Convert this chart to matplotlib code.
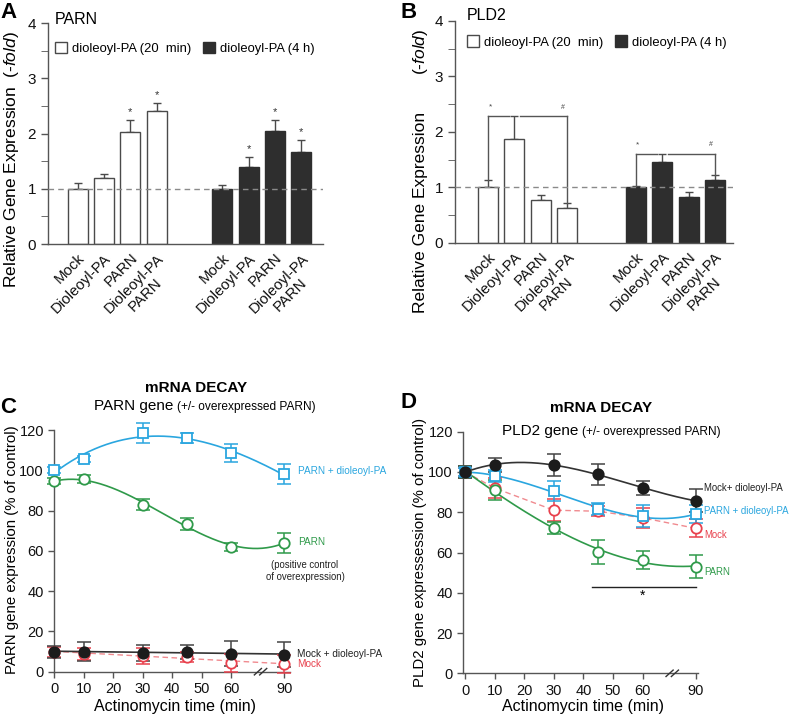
import numpy as np
import matplotlib
matplotlib.use("Agg")
import matplotlib.pyplot as plt
from matplotlib.transforms import ScaledTranslation

plt.rcParams['font.family'] = ['Liberation Sans', 'DejaVu Sans']
plt.rcParams['mathtext.fontset'] = 'custom'
plt.rcParams['mathtext.rm'] = 'Liberation Sans'
plt.rcParams['mathtext.it'] = 'Liberation Sans:italic'

# ---------------- data ----------------
bar_labels = ["Mock", "Dioleoyl-PA", "PARN", "Dioleoyl-PA\nPARN"]
legend_labels = ["dioleoyl-PA (20  min)", "dioleoyl-PA (4 h)"]

parn_20min = [1.00, 1.20, 2.02, 2.40]
parn_20min_err = [0.11, 0.07, 0.22, 0.15]
parn_4h = [1.00, 1.40, 2.04, 1.66]
parn_4h_err = [0.07, 0.17, 0.21, 0.22]
parn_20min_sig = [False, False, True, True]
parn_4h_sig = [False, True, True, True]

pld2_20min = [1.00, 1.87, 0.77, 0.63]
pld2_20min_err = [0.14, 0.41, 0.09, 0.08]
pld2_4h = [1.01, 1.46, 0.83, 1.14]
pld2_4h_err = [0.01, 0.14, 0.09, 0.08]

times = [0, 10, 30, 45, 60, 90]
time_ticks = [0, 10, 20, 30, 40, 50, 60, 90]

c_parn_dpa = [100, 105.5, 118.5, 116, 108.5, 98]
c_parn_dpa_err = [1.5, 1.5, 4.8, 2.7, 4.5, 5]
c_parn = [94.5, 95.5, 83, 73.5, 62, 64]
c_parn_err = [1.5, 2, 2.5, 3, 2, 5]
c_mock_dpa = [10, 10, 9.5, 10, 9, 8.5]
c_mock_dpa_err = [3, 4.5, 4, 3.5, 6, 6]
c_mock = [10, 9, 8, 7.5, 4.5, 4]
c_mock_err = [2.5, 3, 4, 2.5, 4.5, 4.5]

d_mock_dpa = [100, 103.5, 103.5, 98.8, 92, 85.7]
d_mock_dpa_err = [3, 3.5, 5.5, 5.3, 3.5, 5.8]
d_parn_dpa = [100, 98, 90.5, 81.5, 78, 79]
d_parn_dpa_err = [2, 3, 5, 3, 5.5, 4.5]
d_mock = [100, 92, 81, 80.5, 77.2, 72]
d_mock_err = [2, 5, 5.5, 2.5, 5, 4.5]
d_parn = [100, 91, 72, 60.3, 56.4, 53]
d_parn_err = [3, 5, 3, 6, 4.5, 5.8]

# ---------------- helpers ----------------
W, H = 792, 715
fig = plt.figure(figsize=(W / 100, H / 100), dpi=100)
renderer = fig.canvas.get_renderer()

def fx(px):
    return px / W

def fy(py):
    return 1 - py / H

def add_ax(left, top, right, bottom):
    return fig.add_axes([fx(left), fy(bottom), (right - left) / W, (bottom - top) / H])

AX_COL = '#555555'
BLUE = '#2aa6df'
GREEN = '#2f9a4a'
RED = '#e8414d'
BLACK = '#1c1c1c'

def style_axes(ax):
    for s in ['top', 'right']:
        ax.spines[s].set_visible(False)
    for s in ['left', 'bottom']:
        ax.spines[s].set_color(AX_COL)
        ax.spines[s].set_linewidth(1.0)
    ax.tick_params(colors=AX_COL, labelcolor='#111111', width=1.0)

# ---------------- bar panels ----------------
def bar_panel(ax, v1, e1, v2, e2, gap, xlim, leg_anchor):
    x1 = np.arange(4)
    x2 = np.arange(4) + gap
    b1 = ax.bar(x1, v1, width=0.76, color='white', edgecolor='#4a4a4a', linewidth=1.0, zorder=2)
    b2 = ax.bar(x2, v2, width=0.76, color='#2e2e2e', edgecolor='#2e2e2e', linewidth=1.0, zorder=2)
    ax.errorbar(x1, v1, yerr=[np.zeros(4), e1], fmt='none', ecolor='#4a4a4a',
                elinewidth=1.0, capsize=3, capthick=1.0, zorder=1)
    ax.errorbar(x2, v2, yerr=[np.zeros(4), e2], fmt='none', ecolor='#4a4a4a',
                elinewidth=1.0, capsize=3, capthick=1.0, zorder=1)
    ax.axhline(1, color='#8a8a8a', lw=1.0, ls=(0, (4, 3)), zorder=3)
    ax.set_xlim(*xlim)
    ax.set_ylim(0, 4)
    ax.set_yticks([0, 1, 2, 3, 4])
    ax.set_yticks(np.arange(0.5, 4, 1), minor=True)
    ax.tick_params(axis='y', which='major', length=5, labelsize=11)
    ax.tick_params(axis='y', which='minor', length=5, colors=AX_COL)
    ax.set_xticks(list(x1) + list(x2))
    ax.set_xticklabels(bar_labels * 2, rotation=45, ha='right', rotation_mode='anchor',
                       fontsize=10.8, multialignment='center')
    ax.tick_params(axis='x', length=0, pad=5)
    shift = ScaledTranslation(-0.04, 0, fig.dpi_scale_trans)
    for lab in ax.get_xticklabels():
        lab.set_transform(lab.get_transform() + shift)
    style_axes(ax)
    ax.legend([b1, b2], legend_labels, ncol=2, frameon=False, fontsize=9.4,
              loc='upper left', bbox_to_anchor=leg_anchor, handlelength=0.95,
              handleheight=0.95, handletextpad=0.35, columnspacing=0.9,
              borderaxespad=0, borderpad=0)
    return x1, x2

axA = add_ax(48, 23, 323, 244)
xa1, xa2 = bar_panel(axA, parn_20min, parn_20min_err, parn_4h, parn_4h_err, 5.5,
                     (-1.13, 9.33), (0.0255, 0.915))
for xs, v, e, sig in [(xa1, parn_20min, parn_20min_err, parn_20min_sig),
                      (xa2, parn_4h, parn_4h_err, parn_4h_sig)]:
    for xi, vi, ei, si in zip(xs, v, e, sig):
        if si:
            axA.text(xi, vi + ei + 0.05, '*', ha='center', va='bottom', fontsize=8, color='#333333')

axB = add_ax(455, 21, 733, 242.7)
xb1, xb2 = bar_panel(axB, pld2_20min, pld2_20min_err, pld2_4h, pld2_4h_err, 5.6,
                     (-1.25, 9.28), (0.043, 0.935))

def bracket(ax, xs, v, e):
    top = v[1] + e[1]
    lc = '#555555'
    ax.plot([xs[0], xs[0]], [v[0] + e[0], top], color=lc, lw=1.0)
    ax.plot([xs[0], xs[1] - 0.2], [top, top], color=lc, lw=1.0)
    ax.plot([xs[1] + 0.2, xs[3]], [top, top], color=lc, lw=1.0)
    ax.plot([xs[3], xs[3]], [top, v[3] + e[3]], color=lc, lw=1.0)
    ax.text(xs[0] + 0.08, top + 0.1, '*', ha='center', va='bottom', fontsize=6, color='#444444')
    ax.text(xs[3] - 0.15, top + 0.1, '#', ha='center', va='bottom', fontsize=5, color='#444444')

bracket(axB, xb1, pld2_20min, pld2_20min_err)
bracket(axB, xb2, pld2_4h, pld2_4h_err)

fig.text(fx(12), fy(160), r'Relative Gene Expression  (-$\it{fold}$)', rotation=90,
         ha='center', va='center', fontsize=12.5)
fig.text(fx(420), fy(212), 'Relative Gene Expression', rotation=90,
         ha='center', va='center', fontsize=12.5)
fig.text(fx(420), fy(52), r'(-$\it{fold}$)', rotation=90, ha='center', va='center', fontsize=12.5)
fig.text(fx(55), fy(20), 'PARN', ha='left', va='center', fontsize=11.5)
fig.text(fx(467), fy(16), 'PLD2', ha='left', va='center', fontsize=11.5)
fig.text(fx(0), fy(13), 'A', ha='left', va='center', fontsize=16, fontweight='bold')
fig.text(fx(400), fy(13), 'B', ha='left', va='center', fontsize=16, fontweight='bold')
fig.text(fx(0), fy(408), 'C', ha='left', va='center', fontsize=16, fontweight='bold')
fig.text(fx(400), fy(403), 'D', ha='left', va='center', fontsize=16, fontweight='bold')

# ---------------- decay panels ----------------
def tpos(t):
    t = np.asarray(t, dtype=float)
    return np.where(t <= 60, t, 60 + (t - 60) * 0.6)

def series(ax, vals, errs, color, marker, mfc, line, deg, ecolor=None, lcolor=None, dashed=False):
    p = tpos(times)
    ec = ecolor or color
    ls = (0, (4, 2.5)) if dashed else '-'
    lw = 1.0 if dashed else 1.2
    if line == 'fit':
        coef = np.polyfit(p, vals, deg)
        xs = np.linspace(p[0], p[-1], 200)
        ax.plot(xs, np.polyval(coef, xs), color=lcolor or color, lw=lw, ls=ls, zorder=2, clip_on=False)
    elif line == 'join':
        ax.plot(p, vals, color=lcolor or color, lw=lw, ls=ls, zorder=2, clip_on=False)
    ax.errorbar(p, vals, yerr=errs, fmt='none', ecolor=ec, elinewidth=1.1, capsize=5,
                capthick=1.1, zorder=3, clip_on=False)
    ax.plot(p, vals, ls='none', marker=marker, ms=7.5 if marker == 'o' else 7,
            mfc=mfc, mec=color, mew=1.3, zorder=4, clip_on=False)

def decay_axes(ax, xlim, xlabel_x):
    ax.set_xlim(*xlim)
    ax.set_ylim(0, 120)
    ax.set_yticks(np.arange(0, 121, 20))
    ax.set_xticks(tpos(time_ticks))
    ax.set_xticklabels([str(t) for t in time_ticks])
    ax.tick_params(axis='both', length=4, labelsize=10.5)
    style_axes(ax)
    fig.text(fx(xlabel_x), fy(706), 'Actinomycin time (min)', ha='center', va='center', fontsize=11.5)
    bx = 70
    for dx in (-0.9, 0.9):
        ax.plot([bx + dx - 1.2, bx + dx + 1.2], [-1.6, 1.6], color='#333333', lw=1.0,
                clip_on=False, zorder=5)

def subtitle(x, y, big, small):
    t1 = fig.text(fx(x), fy(y), big, ha='left', va='baseline', fontsize=11)
    x1 = t1.get_window_extent(renderer).x1
    fig.text((x1 + 4) / W, fy(y), small, ha='left', va='baseline', fontsize=8.6)

axC = add_ax(54.3, 430, 290, 671.7)
decay_axes(axC, (0, 80), 175)
series(axC, c_mock, c_mock_err, RED, 'o', 'white', 'fit', 1, lcolor='#f08a8f', dashed=True)
series(axC, c_mock_dpa, c_mock_dpa_err, BLACK, 'o', BLACK, 'fit', 1, ecolor='#444444', lcolor='#333333')
series(axC, c_parn, c_parn_err, GREEN, 'o', 'white', 'fit', 3)
series(axC, c_parn_dpa, c_parn_dpa_err, BLUE, 's', 'white', 'fit', 3)
fig.text(fx(12), fy(550), 'PARN gene expression (% of control)', rotation=90,
         ha='center', va='center', fontsize=10.8)
fig.text(fx(196), fy(388), 'mRNA DECAY', ha='center', va='center', fontsize=11, fontweight='bold')
subtitle(94, 410, 'PARN gene', '(+/- overexpressed PARN)')
fig.text(fx(298), fy(471), 'PARN + dioleoyl-PA', ha='left', va='center', fontsize=7.2, color=BLUE)
fig.text(fx(298), fy(542), 'PARN', ha='left', va='center', fontsize=7.2, color=GREEN)
fig.text(fx(305), fy(571), '(positive control\nof overexpression)', ha='center', va='center',
         fontsize=6.9, color='#222222', linespacing=1.3)
fig.text(fx(297), fy(654), 'Mock + dioleoyl-PA', ha='left', va='center', fontsize=7.2, color='#222222')
fig.text(fx(297), fy(664), 'Mock', ha='left', va='center', fontsize=7.2, color=RED)

axD = add_ax(463.3, 431.7, 697.7, 673.3)
decay_axes(axD, (-0.6, 78.6), 583)
series(axD, d_mock, d_mock_err, RED, 'o', 'white', 'join', 1, lcolor='#f08a8f', dashed=True)
series(axD, d_parn, d_parn_err, GREEN, 'o', 'white', 'fit', 3)
series(axD, d_parn_dpa, d_parn_dpa_err, BLUE, 's', 'white', 'fit', 3)
series(axD, d_mock_dpa, d_mock_dpa_err, BLACK, 'o', BLACK, 'fit', 3, ecolor='#444444', lcolor='#333333')
axD.plot(tpos([43, 90]), [43, 43], color='#222222', lw=1.0)
axD.text(tpos(60), 38.5, '*', ha='center', va='center', fontsize=10)
fig.text(fx(420), fy(552), 'PLD2 gene expressession (% of control)', rotation=90,
         ha='center', va='center', fontsize=10.8)
fig.text(fx(601), fy(408), 'mRNA DECAY', ha='center', va='center', fontsize=11, fontweight='bold')
subtitle(502, 435, 'PLD2 gene', '(+/- overexpressed PARN)')
fig.text(fx(704), fy(488), 'Mock+ dioleoyl-PA', ha='left', va='center', fontsize=6.9, color='#222222')
fig.text(fx(704), fy(511), 'PARN + dioleoyl-PA', ha='left', va='center', fontsize=6.9, color=BLUE)
fig.text(fx(704), fy(535), 'Mock', ha='left', va='center', fontsize=6.9, color=RED)
fig.text(fx(704), fy(572), 'PARN', ha='left', va='center', fontsize=6.9, color=GREEN)

fig.savefig('out.png', dpi=100)
